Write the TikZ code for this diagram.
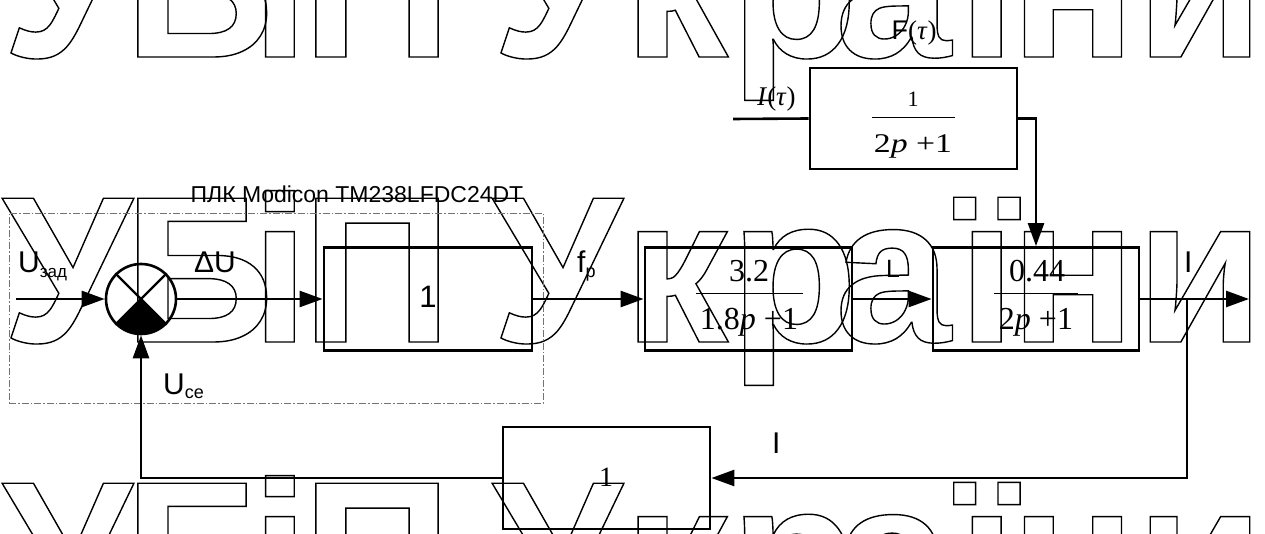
\documentclass[tikz,border=0pt]{standalone}
\usepackage{fontspec}
\usepackage{graphicx}
\setmainfont{Liberation Serif}
\newfontfamily\lsans{Liberation Sans}
\usetikzlibrary{arrows.meta,calc}
\newcommand\outl[1]{\special{pdf:literal direct 1 Tr 1.4 w}#1\special{pdf:literal direct 0 Tr}}
\begin{document}
\begin{tikzpicture}[x=1pt,y=-1pt,
  conn/.style={line width=2.6pt},
  arr/.style={conn,-{Triangle[length=23pt,width=16pt]}},
  blk/.style={draw,line width=2.8pt,minimum height=103pt,inner sep=0pt},
  lab/.style={inner sep=0pt,anchor=base west,font=\lsans\fontsize{30}{30}\selectfont},
  num/.style={inner sep=0pt,anchor=base,font=\fontsize{32}{32}\selectfont},
  bar/.style={line width=1pt},
  wm/.style={inner sep=0pt,anchor=base,font=\lsans\bfseries\fontsize{209}{209}\selectfont},
  plcbox/.style={draw=black!55,line width=0.9pt,dash pattern=on 7pt off 2pt on 1.5pt off 2pt,
    minimum width=534pt,minimum height=190pt,inner sep=0pt}
]
\useasboundingbox (0,0) rectangle (1265,534);
\clip (0,0) rectangle (1265,534);
% watermark
\foreach \wy in {57,342,627}{
  \foreach \wx/\wc in {67/У,199/Б,280/і,377/П,557/У,676/к,794/р,893/а,987/ї,1073/н,1200/и}{
    \node[wm] at (\wx,\wy) {\outl{\wc}};
  }
}
% PLC frame
\node[plcbox] (plc) at (276,308) {};
\node[inner sep=0pt,anchor=base,font=\lsans\fontsize{23}{23}\selectfont] (plclab) at (357,203) {ПЛК Modicon TM238LFDC24DT};
% summing junction
\node[circle,draw,line width=2.6pt,minimum size=70pt,inner sep=0pt] (J) at (141,299) {};
\draw[line width=2.2pt] (J.north west) -- (J.south east) (J.north east) -- (J.south west);
\fill (J.center) -- ($(J.center)+(225:35pt)$) arc[start angle=225,end angle=315,radius=35pt] -- cycle;
% blocks
\node[blk,minimum width=208pt] (B1) at (428,299) {};
\node[inner sep=0pt,anchor=base,font=\lsans\fontsize{31}{31}\selectfont] (one1) at (428,308) {1};
\node[blk,minimum width=207pt] (B2) at (748.5,299) {};
\node[num] (n2) at (749,282) {3.2};
\draw[bar] (696,294) -- (803,294);
\node[num] (d2) at (749,330) {1.8\textit{p} +1};
\node[blk,minimum width=206pt] (B3) at (1036,299) {};
\node[num] (n3) at (1037,282) {0.44};
\draw[bar] (994,294) -- (1078,294);
\node[num] (d3) at (1036,330) {2\textit{p} +1};
\node[blk,minimum width=207pt,minimum height=101pt] (B5) at (913.5,118.5) {};
\node[inner sep=0pt,anchor=base,font=\fontsize{22}{22}\selectfont] (n5) at (913,107) {1};
\draw[bar] (872,118) -- (955,118);
\node[inner sep=0pt,anchor=base,font=\fontsize{27}{27}\selectfont] (d5) at (913,153) {\scalebox{1.25}[1]{2\textit{p} +1}};
\node[blk,minimum width=207pt,minimum height=102pt] (B4) at (606.5,478) {};
\node[inner sep=0pt,anchor=base,font=\fontsize{28}{28}\selectfont] (one4) at (606,486) {1};
% connectors
\coordinate (in) at (16,299);
\coordinate (tin) at (733,119);
\coordinate (out) at (1249,299);
\coordinate (br) at (1187,299);
\draw[arr] (in) -- (J);
\draw[arr] (J.east) -- (B1.west);
\draw[arr] (B1.east) -- (B2.west);
\draw[arr] (B2.east) -- (B3.west);
\draw[arr] (B3.east) -- (out);
\draw[conn] (tin) -- (B5.west);
\draw[arr] (B5.east) -| (B3.north);
\draw[arr] (br) |- (B4.east);
\draw[arr] (B4.west) -| (J.south);
% labels
\node[lab] (lUz) at (18,273) {U\raisebox{-5pt}{\fontsize{17}{17}\selectfont зад}};
\node[lab] (ldU) at (194,273) {ΔU};
\node[lab] (lUce) at (163,394) {U\raisebox{-4pt}{\fontsize{18}{18}\selectfont ce}};
\node[lab] (lfp) at (577,273) {f\raisebox{-5pt}{\fontsize{18}{18}\selectfont p}};
\node[lab,font=\lsans\fontsize{25}{25}\selectfont] (lL) at (886,278) {L};
\node[lab] (lI1) at (1184,273) {I};
\node[lab] (lI2) at (772,453) {I};
\node[inner sep=0pt,anchor=base,font=\fontsize{27}{27}\selectfont] (lF) at (914,40) {{\lsans F}(\textit{τ})};
\node[inner sep=0pt,anchor=base west,font=\fontsize{27}{27}\selectfont] (lIt) at (757,106) {\textit{I}(\textit{τ})};
\end{tikzpicture}
\end{document}
